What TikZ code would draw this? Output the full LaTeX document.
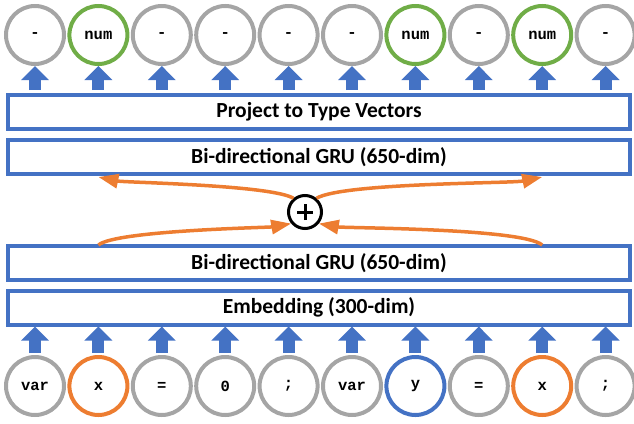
\documentclass[tikz,border=0pt]{standalone}
\usepackage{fontspec}
\setmainfont{Carlito}
\newfontfamily\codefont{Liberation Mono}
\usetikzlibrary{positioning,arrows.meta}
\definecolor{ppblue}{HTML}{4472C4}
\definecolor{ppgrey}{HTML}{A5A5A5}
\definecolor{ppgreen}{HTML}{70AD47}
\definecolor{pporange}{HTML}{ED7D31}

\begin{document}
\begin{tikzpicture}[x=1pt, y=-1pt, node distance={63.4pt},
    tok/.style={draw, circle, line width=4pt, minimum size=58pt, inner sep=0pt, font=\codefont\bfseries\fontsize{15.5}{15.5}\selectfont},
    layer/.style={draw=ppblue, line width=4pt, minimum width=622pt, minimum height=34pt, inner sep=0pt, font=\bfseries\fontsize{21.5}{21.5}\selectfont},
    blockup/.style={ppblue, line width=12pt, -{Triangle[width=27pt,length=14pt]}},
    mergearrow/.style={pporange, line width=3.5pt, -{Triangle[width=14pt,length=20pt]}}]
    \useasboundingbox (0,0) rectangle (634,423);

    % input tokens
    \node[tok, draw=ppgrey] (b1) at (35,386) {var};
    \node[tok, draw=pporange] (b2) [right of = b1] {x};
    \node[tok, draw=ppgrey] (b3) [right of = b2] {=};
    \node[tok, draw=ppgrey] (b4) [right of = b3] {0};
    \node[tok, draw=ppgrey] (b5) [right of = b4] {;};
    \node[tok, draw=ppgrey] (b6) [right of = b5] {var};
    \node[tok, draw=ppblue] (b7) [right of = b6] {y};
    \node[tok, draw=ppgrey] (b8) [right of = b7] {=};
    \node[tok, draw=pporange] (b9) [right of = b8] {x};
    \node[tok, draw=ppgrey] (b10) [right of = b9] {;};

    % predicted types
    \node[tok, draw=ppgrey] (t1) at (35,35) {-};
    \node[tok, draw=ppgreen] (t2) [right of = t1] {num};
    \node[tok, draw=ppgrey] (t3) [right of = t2] {-};
    \node[tok, draw=ppgrey] (t4) [right of = t3] {-};
    \node[tok, draw=ppgrey] (t5) [right of = t4] {-};
    \node[tok, draw=ppgrey] (t6) [right of = t5] {-};
    \node[tok, draw=ppgreen] (t7) [right of = t6] {num};
    \node[tok, draw=ppgrey] (t8) [right of = t7] {-};
    \node[tok, draw=ppgreen] (t9) [right of = t8] {num};
    \node[tok, draw=ppgrey] (t10) [right of = t9] {-};

    % layers
    \node[layer] (embed) at (319,307.5) {Embedding (300-dim)};
    \node[layer] (gru1) at (319,263) {Bi-directional GRU (650-dim)};
    \node[layer] (gru2) at (319,157) {Bi-directional GRU (650-dim)};
    \node[layer] (proj) at (319,112) {Project to Type Vectors};

    \node[draw, circle, line width=3pt, minimum size=33pt] (plus) at (305,212) {};
    \draw[line width=3pt] ([xshift=-8pt]plus.center) -- ([xshift=8pt]plus.center);
    \draw[line width=3pt] ([yshift=-8pt]plus.center) -- ([yshift=8pt]plus.center);

    \foreach \i in {1,...,10} {
        \draw[blockup] ([yshift=2pt]b\i.north) -- (b\i |- embed.south);
        \draw[blockup] ([yshift=3pt]proj.north -| t\i) -- (t\i.south);
    }

    \draw[mergearrow] ([yshift=-1pt]gru1.north -| b2) to[out=40, in=190, looseness=0.3] (plus.220);
    \draw[mergearrow] ([yshift=-1pt]gru1.north -| b9) to[out=140, in=-10, looseness=0.3] (plus.-40);
    \draw[mergearrow] (plus.130) to[out=150, in=-12, looseness=0.35] ([yshift=-1pt]gru2.south -| t2);
    \draw[mergearrow] (plus.50) to[out=30, in=192, looseness=0.35] ([yshift=-1pt]gru2.south -| t9);
\end{tikzpicture}
\end{document}
